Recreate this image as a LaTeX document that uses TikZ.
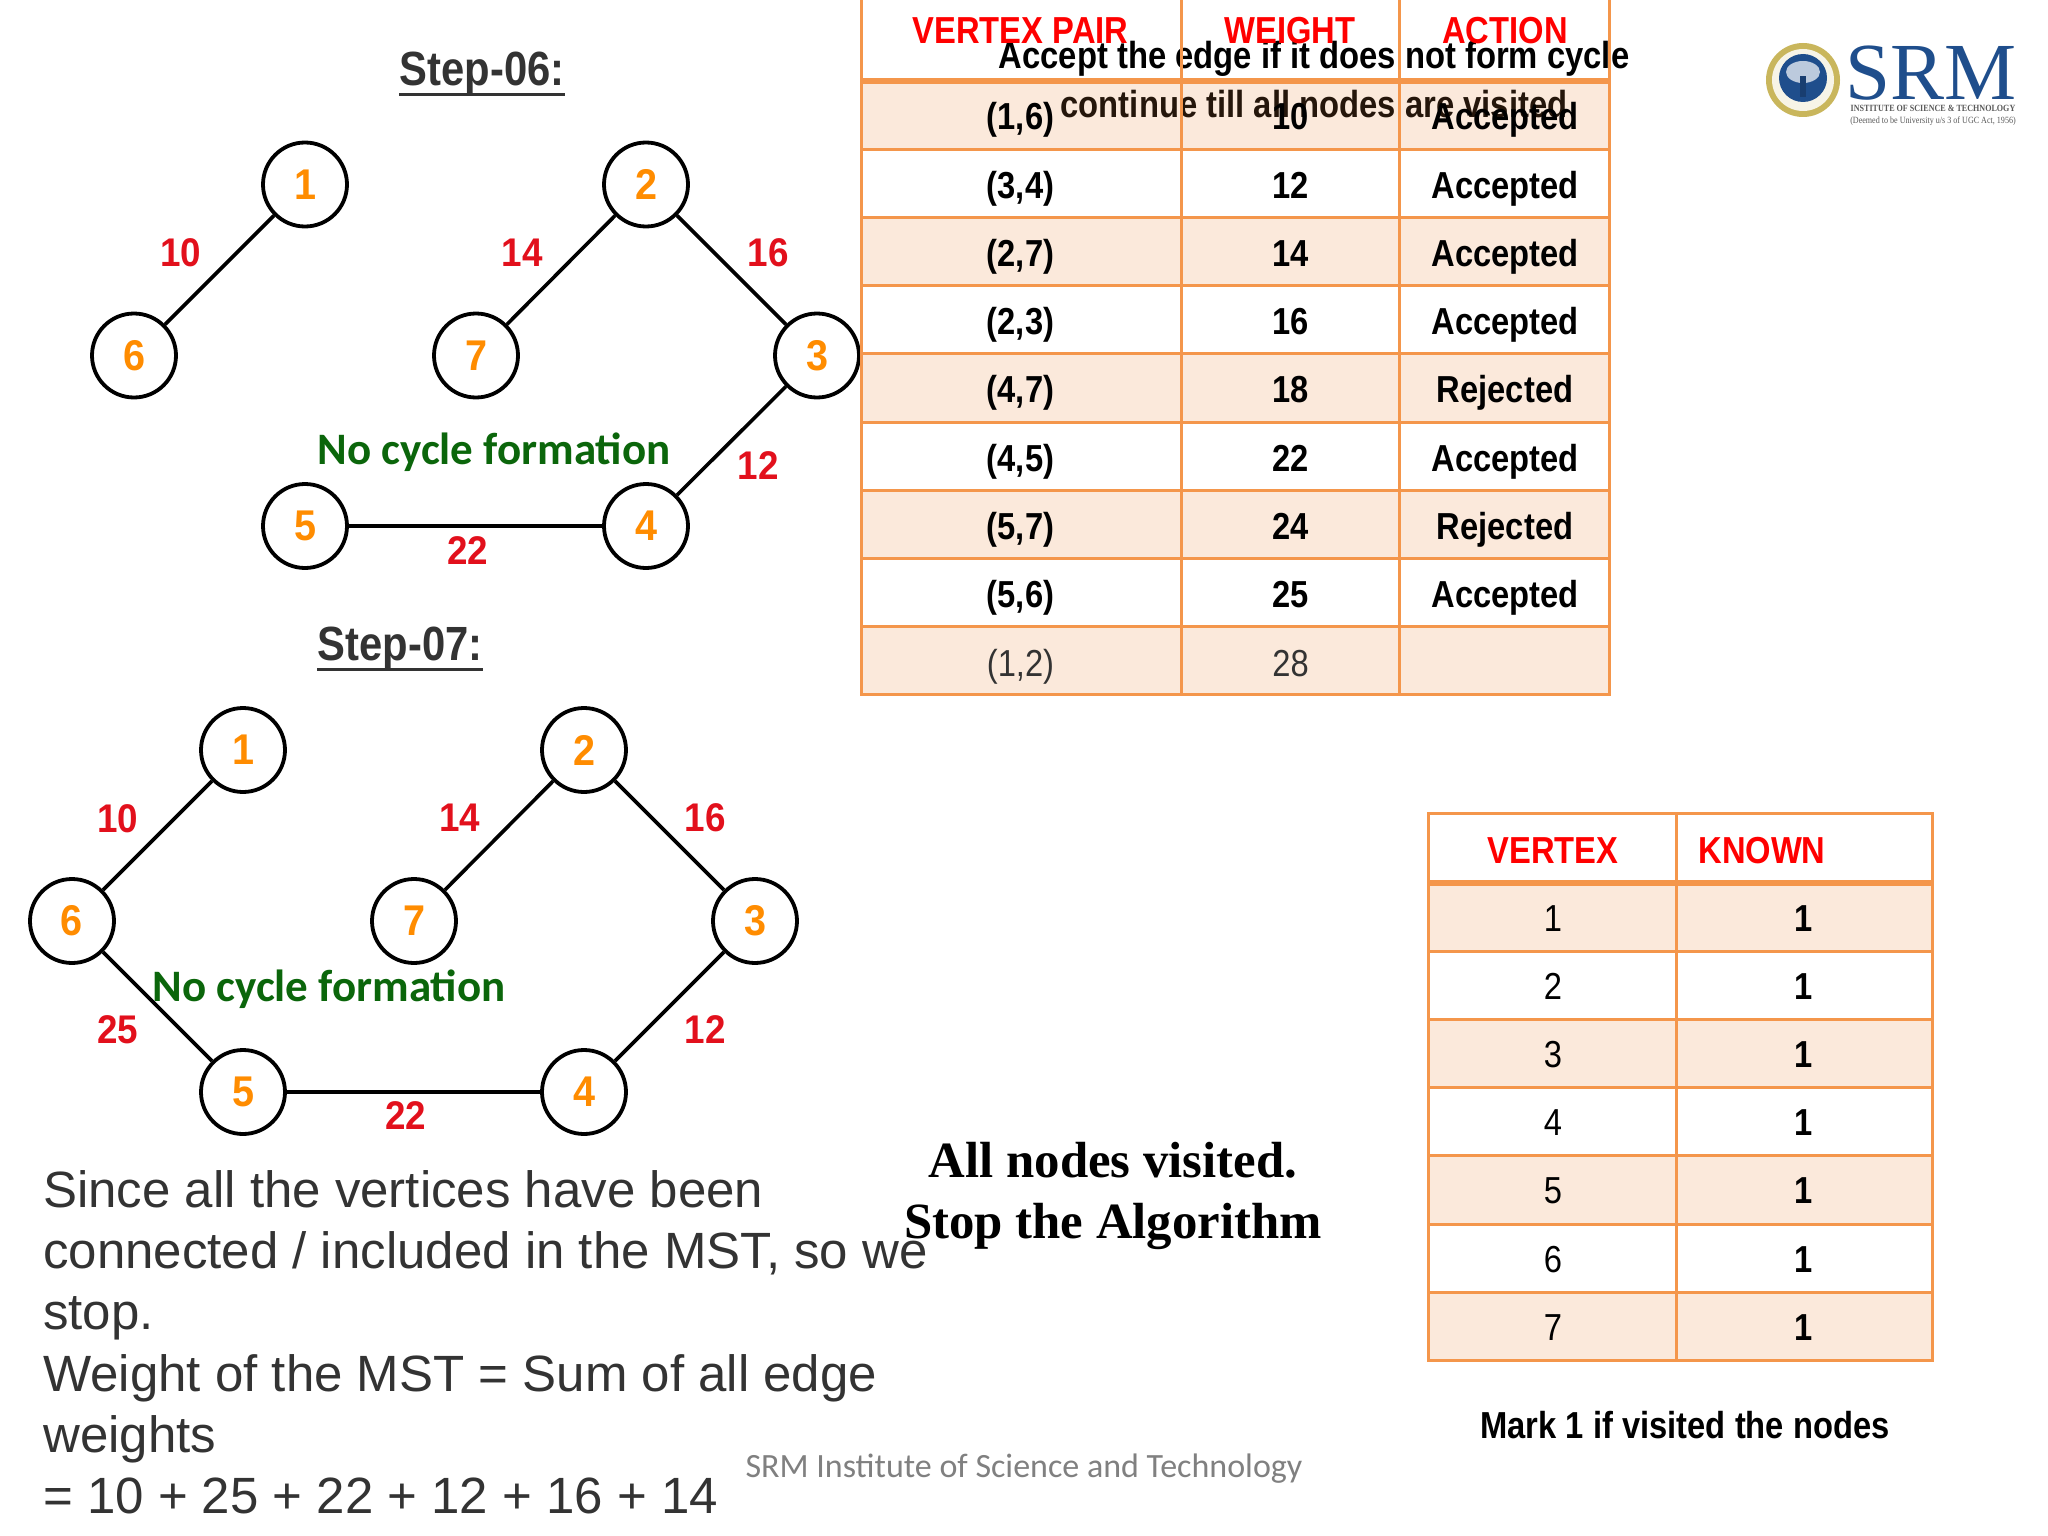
\documentclass[tikz,border=0pt]{standalone}
\usepackage{fontspec}
\setmainfont{Liberation Sans}
\newfontfamily\narrowf[FakeStretch=.87]{Liberation Sans}
\newfontfamily\digitf[FakeStretch=.92]{Liberation Sans}
\newfontfamily\calf{Carlito}
\newfontfamily\timesf{Liberation Serif}
\newfontfamily\smallserif[FakeStretch=.85]{Liberation Serif}
\definecolor{tline}{HTML}{F4964B}
\definecolor{tfill}{HTML}{FBE9DB}
\definecolor{hred}{HTML}{FF0000}
\definecolor{lred}{HTML}{E2101C}
\definecolor{dorange}{HTML}{FF8C00}
\definecolor{nogreen}{HTML}{0B660B}
\definecolor{dgray}{HTML}{333333}
\definecolor{srmblue}{HTML}{1F4E8C}
\definecolor{srmgold}{HTML}{C9B65C}
\tikzset{
  x=1pt,y=-1pt,
  vert/.style={circle,draw=black,line width=3.8pt,fill=white,minimum size=84pt,inner sep=0pt,
    font=\digitf\bfseries\fontsize{43}{43}\selectfont,text=dorange},
  edgeline/.style={draw=black,line width=3.6pt},
  wlabel/.style={anchor=base,inner sep=0pt,font=\digitf\bfseries\fontsize{40}{40}\selectfont,text=lred},
  steptitle/.style={anchor=base,inner sep=0pt,font=\narrowf\bfseries\fontsize{48}{48}\selectfont,text=dgray},
  nocycle/.style={anchor=base,inner sep=0pt,font=\calf\bfseries\fontsize{45}{45}\selectfont,text=nogreen},
  thead/.style={anchor=base,inner sep=0pt,font=\narrowf\bfseries\fontsize{37.6}{37.6}\selectfont,text=hred},
  tcellb/.style={anchor=base,inner sep=0pt,font=\narrowf\bfseries\fontsize{37.6}{37.6}\selectfont,text=black},
  tcellr/.style={anchor=base,inner sep=0pt,font=\narrowf\fontsize{37.6}{37.6}\selectfont,text=dgray},
  overlaytxt/.style={anchor=base,inner sep=0pt,font=\narrowf\bfseries\fontsize{37.7}{37.7}\selectfont},
  para/.style={anchor=base west,inner sep=0pt,font=\fontsize{51}{51}\selectfont,text=dgray},
  stoptxt/.style={anchor=base,inner sep=0pt,font=\timesf\bfseries\fontsize{50.8}{50.8}\selectfont,text=black},
  footertxt/.style={anchor=base,inner sep=0pt,font=\calf\fontsize{34}{34}\selectfont,text=black!50},
  tabline/.style={draw=tline,line width=3pt},
  tabthick/.style={draw=tline,line width=6.5pt}
}
\newcommand{\dg}[1]{\raisebox{-3pt}{#1}}
\begin{document}
\begin{tikzpicture}
\useasboundingbox (0,0) rectangle (2048,1536);
\fill[white] (0,0) rectangle (2048,1536);

% Step 06
\node[steptitle] (t6) at (482,86) {Step-06:};
\draw[dgray,line width=3pt] ([yshift=-9pt]t6.base west) -- ([yshift=-9pt]t6.base east);
\node[vert] (a1) at (305,184.5) {\dg{1}};
\node[vert] (a2) at (646,184.5) {\dg{2}};
\node[vert] (a6) at (134,355.5) {\dg{6}};
\node[vert] (a7) at (476,355.5) {\dg{7}};
\node[vert] (a3) at (817,355.5) {\dg{3}};
\node[vert] (a5) at (305,526) {\dg{5}};
\node[vert] (a4) at (646,526) {\dg{4}};
\draw[edgeline] (a1) -- (a6);
\draw[edgeline] (a2) -- (a7);
\draw[edgeline] (a2) -- (a3);
\draw[edgeline] (a3) -- (a4);
\draw[edgeline] (a5) -- (a4);
\node[wlabel] (l610) at (181,266) {10};
\node[wlabel] (l614) at (522,266) {14};
\node[wlabel] (l616) at (768,266) {16};
\node[wlabel] (l612) at (758,479) {12};
\node[wlabel] (l622) at (468,564) {22};
\node[nocycle] (n6) at (494,464) {No cycle formation};

% Step 07
\node[steptitle] (t7) at (400,660) {Step-07:};
\draw[dgray,line width=3pt] ([yshift=-9pt]t7.base west) -- ([yshift=-9pt]t7.base east);
\node[vert] (b1) at (243,750) {\dg{1}};
\node[vert] (b2) at (584,750) {\dg{2}};
\node[vert] (b6) at (72,921) {\dg{6}};
\node[vert] (b7) at (414,921) {\dg{7}};
\node[vert] (b3) at (755,921) {\dg{3}};
\node[vert] (b5) at (243,1092) {\dg{5}};
\node[vert] (b4) at (584,1092) {\dg{4}};
\draw[edgeline] (b1) -- (b6);
\draw[edgeline] (b2) -- (b7);
\draw[edgeline] (b2) -- (b3);
\draw[edgeline] (b3) -- (b4);
\draw[edgeline] (b5) -- (b4);
\draw[edgeline] (b6) -- (b5);
\node[wlabel] (l710) at (118,832) {10};
\node[wlabel] (l714) at (460,831) {14};
\node[wlabel] (l716) at (705,831) {16};
\node[wlabel] (l725) at (118,1043) {25};
\node[wlabel] (l712) at (705,1043) {12};
\node[wlabel] (l722) at (406,1129) {22};
\node[nocycle] (n7) at (329,1001) {No cycle formation};

% Table 1 fills
\foreach \r in {0,2,4,6,8}{
  \fill[tfill] (861.5,{81+68.2*\r}) rectangle (1609,{81+68.2*(\r+1)});
}
% overlay text lies under the table rules
\node[overlaytxt,text=black] (ov1) at (1314,69) {Accept the edge if it does not form cycle};
\node[overlaytxt,text=black!85!tline] (ov2) at (1314,118) {continue till all nodes are visited};
% Table 1 rules
\foreach \x in {861.5,1181,1399,1609}{\draw[tabline] (\x,0) -- (\x,695);}
\foreach \r in {1,...,9}{\draw[tabline] (860,{81+68.2*\r}) -- (1610.5,{81+68.2*\r});}
\draw[tabthick] (860,81) -- (1610.5,81);
% Table 1 text
\node[thead] (h1) at (1020.5,44) {VERTEX PAIR};
\node[thead] (h2) at (1290,44) {WEIGHT};
\node[thead] (h3) at (1505,44) {ACTION};
\foreach \r/\p/\w/\a in {0/{(1,6)}/10/Accepted,1/{(3,4)}/12/Accepted,2/{(2,7)}/14/Accepted,3/{(2,3)}/16/Accepted,4/{(4,7)}/18/Rejected,5/{(4,5)}/22/Accepted,6/{(5,7)}/24/Rejected,7/{(5,6)}/25/Accepted}{
  \node[tcellb] (p\r) at (1020.5,{130+68.2*\r}) {\p};
  \node[tcellb] (w\r) at (1290.5,{130+68.2*\r}) {\w};
  \node[tcellb] (c\r) at (1505,{130+68.2*\r}) {\a};
}
\node[tcellr] (p8) at (1020.5,676) {(1,2)};
\node[tcellr] (w8) at (1290.5,676) {28};

% Table 2
\foreach \r in {0,2,4,6}{
  \fill[tfill] (1428,{883+68.2*\r}) rectangle (1932,{883+68.2*(\r+1)});
}
\draw[tabline] (1428.5,813.5) rectangle (1932,1360.5);
\draw[tabline] (1676,813.5) -- (1676,1360.5);
\foreach \r in {1,...,6}{\draw[tabline] (1428.5,{883+68.2*\r}) -- (1932,{883+68.2*\r});}
\draw[tabthick] (1428.5,883) -- (1932,883);
\node[thead] (k1) at (1553,863) {VERTEX};
\node[thead] (k2) at (1762,863) {KNOWN};
\foreach \r/\v in {0/1,1/2,2/3,3/4,4/5,5/6,6/7}{
  \node[tcellr,text=black] (v\r) at (1553,{931+68.2*\r}) {\v};
  \node[tcellb] (m\r) at (1804,{931+68.2*\r}) {1};
}
\node[tcellb] (mk) at (1685,1438) {Mark 1 if visited the nodes};

% Paragraph
\node[para] (s1) at (43,1207) {Since all the vertices have been};
\node[para] (s2) at (43,1268) {connected / included in the MST, so we};
\node[para] (s3) at (43,1329) {stop.};
\node[para] (s4) at (43,1391) {Weight of the MST = Sum of all edge};
\node[para] (s5) at (43,1452) {weights};
\node[para] (s6) at (43,1513) {= 10 + 25 + 22 + 12 + 16 + 14};

\node[stoptxt] (st1) at (1113,1177) {All nodes visited.};
\node[stoptxt] (st2) at (1113,1238) {Stop the Algorithm};
\node[footertxt] (ft) at (1024,1477) {SRM Institute of Science and Technology};

% Logo
\fill[srmgold] (1803,80) circle (37);
\fill[white!85!srmgold] (1803,80) circle (31);
\fill[srmblue] (1803,78) circle (24);
\fill[white!70!srmblue] (1803,72) ellipse (17 and 11);
\fill[srmblue!80!black] (1800,76) rectangle (1806,97);
\node[anchor=base,inner sep=0pt,font=\timesf\fontsize{81}{81}\selectfont,text=srmblue] (lg) at (1931,100) {SRM};
\node[anchor=base,inner sep=0pt,font=\smallserif\bfseries\fontsize{9.5}{9.5}\selectfont,text=black!65] (lg2) at (1933,112) {INSTITUTE OF SCIENCE \& TECHNOLOGY};
\node[anchor=base,inner sep=0pt,font=\smallserif\fontsize{9.5}{9.5}\selectfont,text=black!65] (lg3) at (1933,124) {(Deemed to be University u/s 3 of UGC Act, 1956)};
\end{tikzpicture}
\end{document}
